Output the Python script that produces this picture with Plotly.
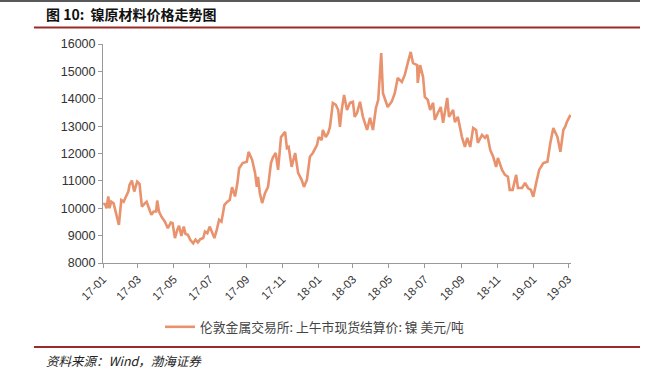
import plotly.graph_objects as go

dates = [
    "2017-01-02","2017-01-04","2017-01-07","2017-01-10","2017-01-12","2017-01-15","2017-01-19","2017-01-23","2017-01-28",
    "2017-02-01","2017-02-05","2017-02-09","2017-02-13","2017-02-15","2017-02-19","2017-02-23","2017-02-26","2017-02-28",
    "2017-03-04","2017-03-08","2017-03-13","2017-03-16","2017-03-20","2017-03-24","2017-03-28",
    "2017-04-01","2017-04-03","2017-04-06","2017-04-10","2017-04-16","2017-04-21","2017-04-26","2017-04-29",
    "2017-05-03","2017-05-07","2017-05-10","2017-05-14","2017-05-18","2017-05-21","2017-05-25","2017-05-29",
    "2017-06-03","2017-06-07","2017-06-11","2017-06-15","2017-06-20","2017-06-23","2017-06-27",
    "2017-07-01","2017-07-06","2017-07-09","2017-07-13","2017-07-17","2017-07-21","2017-07-26","2017-07-31",
    "2017-08-04","2017-08-08","2017-08-13","2017-08-17","2017-08-20","2017-08-26",
    "2017-09-02","2017-09-05","2017-09-11","2017-09-16","2017-09-19","2017-09-21","2017-09-24","2017-09-28",
    "2017-10-03","2017-10-08","2017-10-13","2017-10-16","2017-10-21","2017-10-25","2017-10-30",
    "2017-11-06","2017-11-09","2017-11-12","2017-11-17","2017-11-23","2017-11-28",
    "2017-12-04","2017-12-08","2017-12-13","2017-12-18","2017-12-23","2017-12-30",
    "2018-01-02","2018-01-07","2018-01-09","2018-01-14","2018-01-18","2018-01-21","2018-01-26","2018-01-31",
    "2018-02-04","2018-02-07","2018-02-10","2018-02-14","2018-02-19","2018-02-24",
    "2018-03-01","2018-03-04","2018-03-08","2018-03-13","2018-03-18","2018-03-25","2018-03-30",
    "2018-04-04","2018-04-09","2018-04-13","2018-04-18","2018-04-21","2018-04-29",
    "2018-05-06","2018-05-11","2018-05-16","2018-05-23","2018-05-28",
    "2018-06-02","2018-06-07","2018-06-11","2018-06-18","2018-06-19","2018-06-23","2018-06-28",
    "2018-07-01","2018-07-06","2018-07-10","2018-07-15","2018-07-18","2018-07-23","2018-07-28",
    "2018-08-01","2018-08-08","2018-08-11","2018-08-18","2018-08-21","2018-08-26",
    "2018-09-02","2018-09-07","2018-09-11","2018-09-16","2018-09-21","2018-09-26","2018-09-29",
    "2018-10-06","2018-10-11","2018-10-15","2018-10-20","2018-10-25","2018-10-30",
    "2018-11-02","2018-11-09","2018-11-14","2018-11-19","2018-11-22","2018-11-27",
    "2018-12-03","2018-12-06","2018-12-13","2018-12-18","2018-12-23","2018-12-28",
    "2019-01-01","2019-01-06","2019-01-11","2019-01-18","2019-01-25","2019-01-30",
    "2019-02-04","2019-02-11","2019-02-16","2019-02-21","2019-02-24","2019-02-27","2019-03-05",
]
nickel = [
    10120,10180,10000,10430,10000,10240,10180,9820,9390,
    10300,10240,10430,10610,10850,11010,10610,10890,10970,
    10890,10060,10180,10240,10000,9760,9880,
    9880,10280,9880,9700,9510,9270,9480,9460,
    8910,9210,9360,8990,9330,9060,9030,8850,
    8720,8850,8750,8870,8910,9150,9090,
    9330,9030,8910,9210,9580,9510,10120,10240,
    10300,10770,10430,10920,11460,11650,
    11700,12060,11770,11290,10780,11150,10560,10190,
    10560,10780,11650,11840,12020,11400,12600,
    12790,12200,12240,11510,12020,11290,
    11040,10780,11040,11880,12020,12310,
    12600,12490,12860,12600,12750,12970,13850,13780,
    13590,12970,13590,14140,13590,13850,
    13890,13340,13480,13890,13340,12860,13300,
    12860,13660,13960,15670,14200,13700,
    13900,14200,14760,14610,14870,
    15300,15710,15300,15230,14580,15230,14800,
    14070,13960,13590,13850,13230,13480,13700,
    13120,14030,13340,13590,13150,13340,
    12600,12240,12570,12240,12930,12860,12390,
    12680,12570,12680,12130,11880,11510,
    11840,11400,11220,11150,10670,10670,
    11220,10740,10740,10930,10740,10670,
    10420,10930,11400,11650,11700,12390,
    12930,12600,12060,12860,12970,13150,13410,
]

tick_vals = ["2017-01-01","2017-03-01","2017-05-01","2017-07-01","2017-09-01","2017-11-01",
             "2018-01-01","2018-03-01","2018-05-01","2018-07-01","2018-09-01","2018-11-01",
             "2019-01-01","2019-03-01"]
tick_text = ["17-01","17-03","17-05","17-07","17-09","17-11","18-01","18-03","18-05","18-07",
             "18-09","18-11","19-01","19-03"]
y_ticks = [8000, 9000, 10000, 11000, 12000, 13000, 14000, 15000, 16000]
y_tick_text = [str(v) for v in y_ticks]

series_name = "伦敦金属交易所: 上午市现货结算价: 镍 美元/吨"
title_text = "图 10:  镍原材料价格走势图"
source_text = "资料来源：Wind，渤海证券"

W, H = 648, 372
L, R, T, B = 103, 77, 44, 109
pw, ph = W - L - R, H - T - B

def px(x):
    return (x - L) / pw

def py(y):
    return (H - B - y) / ph

fig = go.Figure()
fig.add_trace(go.Scatter(
    x=dates, y=nickel, mode="lines", name=series_name,
    line=dict(color="#E9926E", width=2.6),
))

fig.update_layout(
    width=W, height=H,
    margin=dict(l=L, r=R, t=T, b=B, autoexpand=False),
    paper_bgcolor="white", plot_bgcolor="white",
    font=dict(family="Liberation Sans, Arial, Noto Sans CJK SC", size=12, color="#333"),
    showlegend=True,
    legend=dict(
        x=px(160), y=py(327), xanchor="left", yanchor="middle",
        orientation="h",
        font=dict(family="Noto Sans CJK SC", size=12.8, color="#444"),
        bgcolor="rgba(0,0,0,0)",
    ),
    xaxis=dict(
        type="date",
        range=["2017-01-01", "2019-03-06"],
        tickvals=tick_vals, ticktext=tick_text,
        tickangle=-45,
        showgrid=False, zeroline=False,
        showline=True, linecolor="#999", linewidth=1,
        ticks="outside", ticklen=4, tickcolor="#999",
        tickfont=dict(size=11.5, color="#333"),
        automargin=False,
    ),
    yaxis=dict(
        range=[8000, 16000],
        tickvals=y_ticks, ticktext=y_tick_text,
        showgrid=False, zeroline=False,
        showline=True, linecolor="#999", linewidth=1,
        ticks="outside", ticklen=4, tickcolor="#999",
        tickfont=dict(size=12.5, color="#333"),
        automargin=False,
    ),
)

shapes = [
    dict(type="line", xref="paper", yref="paper", x0=px(0), x1=px(640), y0=py(1), y1=py(1),
         line=dict(color="#222", width=1.5)),
    dict(type="line", xref="paper", yref="paper", x0=px(34), x1=px(640), y0=py(27.5), y1=py(27.5),
         line=dict(color="#9B2B2B", width=2)),
    dict(type="line", xref="paper", yref="paper", x0=px(34), x1=px(640), y0=py(347), y1=py(347),
         line=dict(color="#9B2B2B", width=2)),
]
fig.update_layout(shapes=shapes)

fig.add_annotation(
    text="<b>" + title_text + "</b>", xref="paper", yref="paper",
    x=px(44), y=py(14), xanchor="left", yanchor="middle", showarrow=False,
    font=dict(family="Noto Sans CJK SC", size=14, color="#111"),
)
fig.add_annotation(
    text="<i>" + source_text + "</i>", xref="paper", yref="paper",
    x=px(44), y=py(361), xanchor="left", yanchor="middle", showarrow=False,
    font=dict(family="Noto Sans CJK SC", size=12.5, color="#222"),
)

fig.write_html(
    "out.html",
    config={"displayModeBar": False},
    post_script="document.body.style.margin='0';document.body.style.padding='0';",
)
